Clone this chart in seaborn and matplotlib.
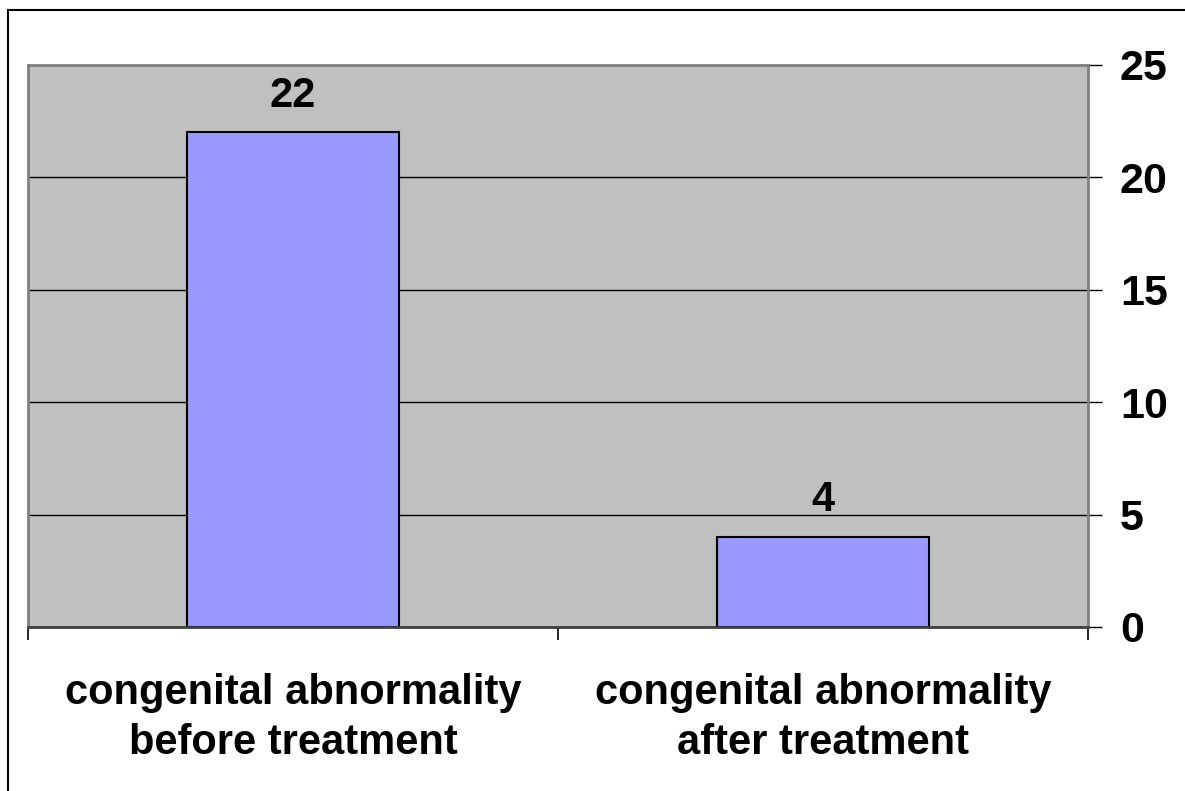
import matplotlib
matplotlib.use("Agg")
import matplotlib.pyplot as plt
import seaborn as sns
import pandas as pd

categories = ["congenital abnormality\nbefore treatment", "congenital abnormality\nafter treatment"]
values = [22, 4]
y_ticks = [0, 5, 10, 15, 20, 25]

sns.set_theme(style="white")
plt.rcParams['font.family'] = ['Liberation Sans', 'DejaVu Sans']
plt.rcParams['text.color'] = 'black'
plt.rcParams['xtick.color'] = 'black'
plt.rcParams['ytick.color'] = 'black'

fig = plt.figure(figsize=(11.85, 7.91), dpi=100)
# outer frame
fig.patches.append(plt.Rectangle((8/1185, -0.01), 1.2, (791-10)/791 + 0.01, transform=fig.transFigure,
                                 fill=False, edgecolor='black', linewidth=1.5))
ax = fig.add_axes([28/1185, (791-627)/791, (1088-28)/1185, (627-65)/791])

df = pd.DataFrame({"cat": categories, "val": values})
sns.barplot(data=df, x="cat", y="val", ax=ax, color="#9999FF", width=0.4,
            edgecolor="black", linewidth=1.5, saturation=1)

ax.set_facecolor("#C0C0C0")
ax.set_xlim(-0.5, 1.5)
ax.set_ylim(0, 25)
ax.set_yticks(y_ticks)
ax.yaxis.tick_right()
ax.yaxis.grid(True, color="black", linewidth=1)
ax.set_axisbelow(True)
ax.tick_params(axis='y', which='major', length=10, width=1, color='black', pad=13,
               labelsize=31, right=True, left=False, labelcolor='black')
for lab in ax.get_yticklabels():
    lab.set_fontweight('bold')
ax.set_xlabel("")
ax.set_ylabel("")
ax.set_xticks([0, 1])
ax.set_xticklabels(categories, fontsize=30, fontweight='bold', linespacing=1.33, color='black')
ax.tick_params(axis='x', which='major', length=0, pad=33)
ax.set_xticks([-0.5, 0.5, 1.5], minor=True)
ax.tick_params(axis='x', which='minor', length=9, width=1.2, color='black', bottom=True)

for s in ['top', 'right', 'left']:
    ax.spines[s].set_color('#808080')
    ax.spines[s].set_linewidth(2)
ax.spines['bottom'].set_color('#404040')
ax.spines['bottom'].set_linewidth(2)

for i, v in enumerate(values):
    ax.text(i, v + 0.75, str(v), ha='center', va='bottom', fontsize=30, fontweight='bold', color='black')

fig.savefig("out.png", dpi=100)
